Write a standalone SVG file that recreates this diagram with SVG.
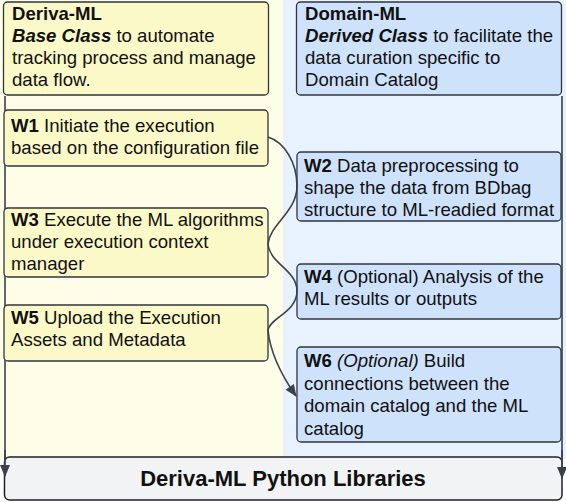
<svg xmlns="http://www.w3.org/2000/svg" width="566" height="502" viewBox="0 0 566 502">
<defs>
<style>
.t{font-family:"Liberation Sans",Arial,sans-serif;font-size:18.6px;fill:#111}
.b{font-weight:bold}
.i{font-style:italic}
.yb{fill:#fcf9c8;stroke:#30353c;stroke-width:1.3}
.bb{fill:#cfe2fb;stroke:#30353c;stroke-width:1.3}
.c{fill:none;stroke:#3a414a;stroke-width:1.6}
</style>
<marker id="ah2" viewBox="0 0 12 10" refX="11" refY="5" markerWidth="13" markerHeight="10" markerUnits="userSpaceOnUse" orient="auto">
<path d="M0,0 L12,5 L0,10 z" fill="#3a414a"/>
</marker>
</defs>
<g id="lanes">
<rect x="0" y="0" width="283" height="460" fill="#fefee8"/>
<rect x="283" y="0" width="283" height="460" fill="#e8f1fe"/>
</g>
<g id="connectors">
<path class="c" d="M5,96 L5,460"/>
<path class="c" d="M562,96 L562,460"/>
</g>
<g id="deriva-ml">
<rect class="yb" x="3.5" y="2" width="265" height="93" rx="4"/>
<text class="t"><tspan class="b" x="12" y="20">Deriva-ML</tspan><tspan x="12" y="42"><tspan class="b i">Base Class</tspan> to automate</tspan><tspan x="12" y="64">tracking process and manage</tspan><tspan x="12" y="86">data flow.</tspan></text>
</g>
<g id="domain-ml">
<rect class="bb" x="296.5" y="2" width="265" height="93" rx="4"/>
<text class="t"><tspan class="b" x="305" y="20">Domain-ML</tspan><tspan x="305" y="42"><tspan class="b i">Derived Class</tspan> to facilitate the</tspan><tspan x="305" y="64">data curation specific to</tspan><tspan x="305" y="86">Domain Catalog</tspan></text>
</g>
<g id="w1">
<rect class="yb" x="4" y="110" width="264" height="56" rx="4"/>
<text class="t"><tspan x="11" y="132"><tspan class="b">W1</tspan> Initiate the execution</tspan><tspan x="11" y="154">based on the configuration file</tspan></text>
</g>
<g id="w3">
<rect class="yb" x="4" y="208" width="264" height="69" rx="4"/>
<text class="t"><tspan x="11" y="226"><tspan class="b">W3</tspan> Execute the ML algorithms</tspan><tspan x="11" y="248">under execution context</tspan><tspan x="11" y="270">manager</tspan></text>
</g>
<g id="w5">
<rect class="yb" x="4" y="305" width="264" height="56" rx="4"/>
<text class="t"><tspan x="11" y="324"><tspan class="b">W5</tspan> Upload the Execution</tspan><tspan x="11" y="346">Assets and Metadata</tspan></text>
</g>
<g id="w2">
<rect class="bb" x="297" y="152" width="264" height="69" rx="4"/>
<text class="t"><tspan x="304" y="172"><tspan class="b">W2</tspan> Data preprocessing to</tspan><tspan x="304" y="194">shape the data from BDbag</tspan><tspan x="304" y="216">structure to ML-readied format</tspan></text>
</g>
<g id="w4">
<rect class="bb" x="297" y="264" width="264" height="55" rx="4"/>
<text class="t"><tspan x="304" y="283"><tspan class="b">W4</tspan> (Optional) Analysis of the</tspan><tspan x="304" y="305">ML results or outputs</tspan></text>
</g>
<g id="w6">
<rect class="bb" x="297" y="347" width="264" height="95" rx="4"/>
<text class="t"><tspan x="304" y="367"><tspan class="b">W6</tspan> <tspan class="i">(Optional)</tspan> Build</tspan><tspan x="304" y="390">connections between the</tspan><tspan x="304" y="412">domain catalog and the ML</tspan><tspan x="304" y="435">catalog</tspan></text>
</g>
<g id="libraries">
<rect x="4.5" y="457" width="557.5" height="43" rx="5" fill="#f2f3f5" stroke="#1e2126" stroke-width="1.5"/>
<text class="t b" x="283" y="486" text-anchor="middle" style="font-size:22px">Deriva-ML Python Libraries</text>
</g>
<g id="flow">
<path class="c" d="M268,137 C284,142 297,162 297,186"/>
<path class="c" d="M297,186 C297,212 270,224 268,244"/>
<path class="c" d="M268,244 C270,264 297,270 297,291"/>
<path class="c" d="M297,291 C297,312 270,318 268,330"/>
<path class="c" d="M268,330 C270,352 282,376 296,396" marker-end="url(#ah2)"/>
<path class="c" d="M5,450 L5,476" marker-end="url(#ah2)"/>
<path class="c" d="M562,450 L562,478" marker-end="url(#ah2)"/>
</g>
</svg>
